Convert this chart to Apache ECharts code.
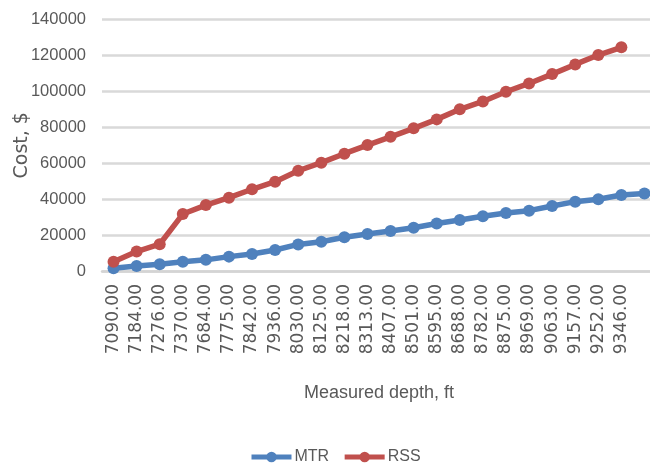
<!DOCTYPE html>
<html>
<head>
<meta charset="utf-8">
<script src="https://cdn.jsdelivr.net/npm/echarts@6/dist/echarts.min.js"></script>
<style>
  html, body { margin: 0; padding: 0; background: #ffffff; }
  #chart { width: 650px; height: 475px; }
</style>
</head>
<body>
<div id="chart"></div>
<script>
// Measured depth (ft) for each survey station; the final station has no printed label
const depths = ['7090.00', '7184.00', '7276.00', '7370.00', '7684.00', '7775.00', '7842.00',
  '7936.00', '8030.00', '8125.00', '8218.00', '8313.00', '8407.00', '8501.00', '8595.00',
  '8688.00', '8782.00', '8875.00', '8969.00', '9063.00', '9157.00', '9252.00', '9346.00', ''];

// Cumulative cost, $
const mtrCost = [1500, 2800, 3800, 5200, 6200, 8000, 9500, 11700, 14800, 16300, 18800, 20600,
  22300, 24100, 26400, 28400, 30500, 32300, 33600, 36200, 38600, 39900, 42300, 43200];
const rssCost = [5200, 10800, 14900, 31700, 36700, 40800, 45500, 49700, 55800, 60300, 65300,
  70100, 74700, 79400, 84400, 90000, 94400, 99800, 104400, 109600, 115000, 120200, 124500, null];

const yTicks = { min: 0, max: 140000, interval: 20000 };

const textGray = '#595959';
const sans = '"Liberation Sans", Arial, sans-serif';

const chart = echarts.init(document.getElementById('chart'), null, { renderer: 'canvas' });

chart.setOption({
  backgroundColor: '#ffffff',
  animation: false,
  grid: {
    left: 102, right: -6, top: 19.5, bottom: 204,
    containLabel: false,
    outerBoundsMode: 'none'
  },
  legend: {
    bottom: 5,
    left: 244,
    itemWidth: 40,
    itemHeight: 13,
    itemGap: 13,
    lineStyle: { width: 5 },
    textStyle: { fontFamily: sans, fontSize: 16, color: textGray, padding: [0, 0, 0, -2] },
    data: ['MTR', 'RSS']
  },
  xAxis: {
    type: 'category',
    data: depths,
    boundaryGap: true,
    name: 'Measured depth, ft',
    nameLocation: 'middle',
    nameGap: 113,
    nameMoveOverlap: false,
    nameTextStyle: { fontFamily: sans, fontSize: 18, color: textGray },
    axisLine: { show: true, lineStyle: { color: '#d4d4d4', width: 2.5 } },
    axisTick: { show: false },
    axisLabel: {
      interval: 0,
      rotate: 90,
      margin: 13,
      fontFamily: '"DejaVu Sans", sans-serif',
      fontSize: 17,
      color: textGray
    },
    splitLine: { show: false }
  },
  yAxis: {
    type: 'value',
    min: yTicks.min,
    max: yTicks.max,
    interval: yTicks.interval,
    name: 'Cost, $',
    nameLocation: 'middle',
    nameRotate: 90,
    nameGap: 70,
    nameMoveOverlap: false,
    nameTextStyle: { fontFamily: '"DejaVu Sans", sans-serif', fontSize: 19, color: textGray },
    axisLine: { show: false },
    axisTick: { show: false },
    axisLabel: {
      margin: 16,
      fontFamily: sans,
      fontSize: 16.5,
      color: textGray,
      formatter: (v) => String(v)
    },
    splitLine: { show: true, lineStyle: { color: '#d9d9d9', width: 2.5 } }
  },
  series: [
    {
      name: 'MTR',
      type: 'line',
      data: mtrCost,
      color: '#4f81bd',
      symbol: 'circle',
      symbolSize: 12,
      lineStyle: { width: 5.5, color: '#4f81bd' },
      itemStyle: { color: '#4f81bd' }
    },
    {
      name: 'RSS',
      type: 'line',
      data: rssCost,
      color: '#c0504d',
      symbol: 'circle',
      symbolSize: 12,
      lineStyle: { width: 5.5, color: '#c0504d' },
      itemStyle: { color: '#c0504d' }
    }
  ]
});
</script>
</body>
</html>
